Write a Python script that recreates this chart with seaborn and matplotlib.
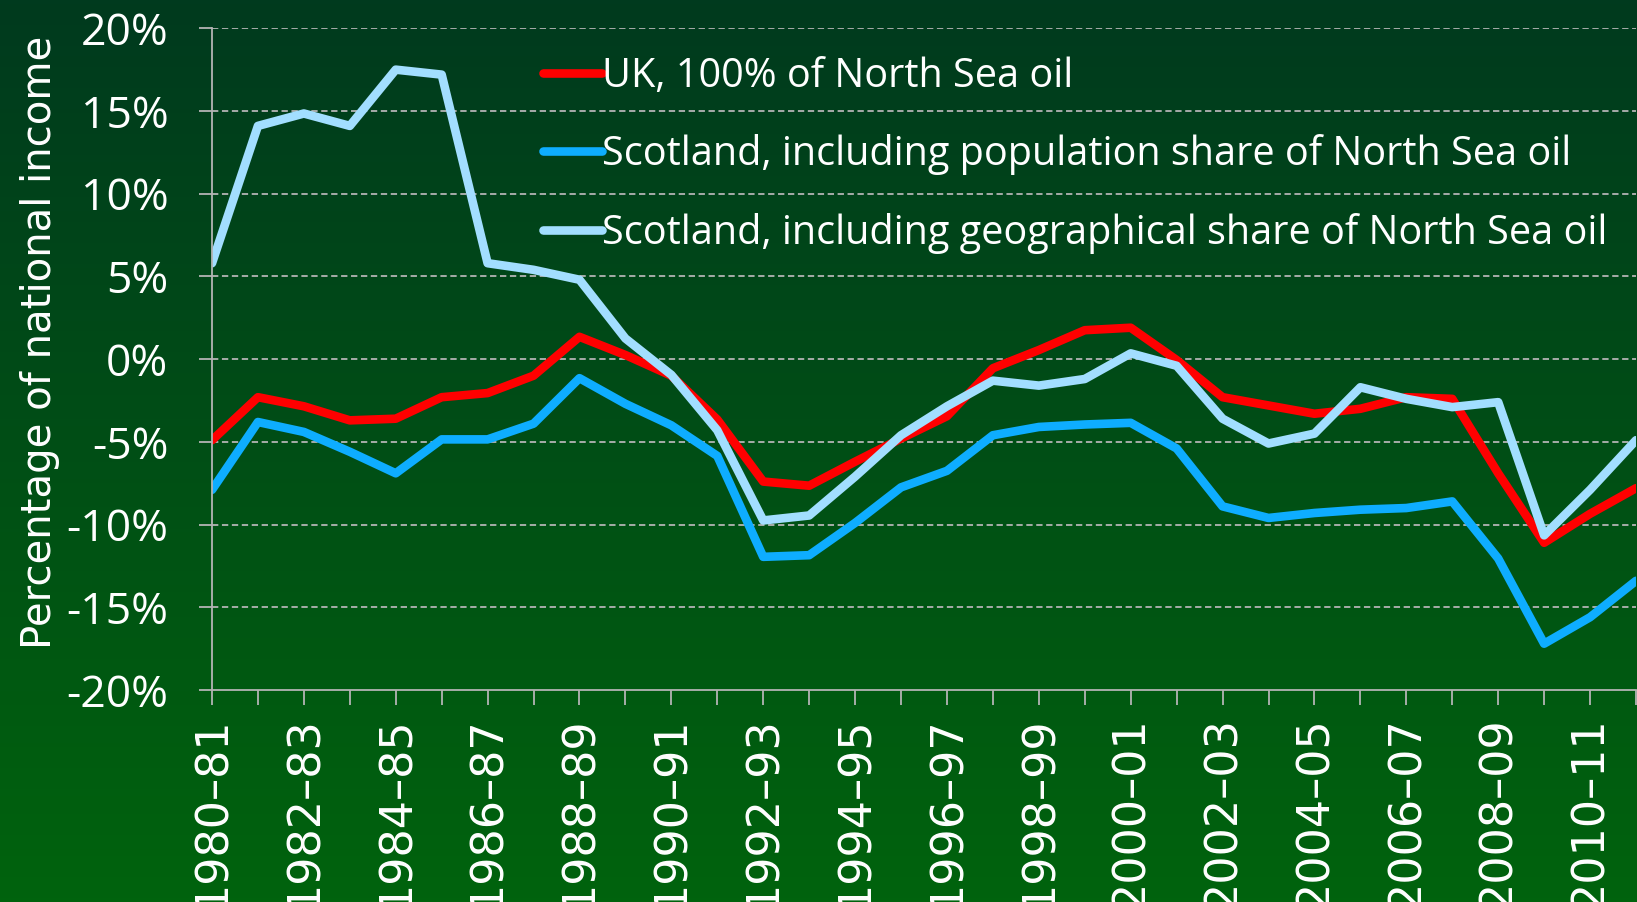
import matplotlib
matplotlib.use("Agg")
import matplotlib.pyplot as plt
import seaborn as sns
import numpy as np
import pandas as pd

# ---- data ----
years = ["1980–81", "1981–82", "1982–83", "1983–84", "1984–85", "1985–86",
         "1986–87", "1987–88", "1988–89", "1989–90", "1990–91", "1991–92",
         "1992–93", "1993–94", "1994–95", "1995–96", "1996–97", "1997–98",
         "1998–99", "1999–00", "2000–01", "2001–02", "2002–03", "2003–04",
         "2004–05", "2005–06", "2006–07", "2007–08", "2008–09", "2009–10",
         "2010–11", "2011–12"]

uk = [-4.9, -2.3, -2.85, -3.7, -3.6, -2.3, -2.05, -1.0, 1.35, 0.25, -1.0, -3.65,
      -7.4, -7.65, -6.2, -4.8, -3.45, -0.55, 0.55, 1.75, 1.9, -0.05, -2.3, -2.8,
      -3.3, -3.0, -2.3, -2.4, -6.9, -11.1, -9.35, -7.8]

scot_pop = [-7.9, -3.8, -4.4, -5.6, -6.9, -4.85, -4.85, -3.9, -1.15, -2.7, -4.0, -5.85,
            -11.95, -11.85, -9.9, -7.75, -6.75, -4.6, -4.1, -3.95, -3.85, -5.4, -8.9, -9.6,
            -9.3, -9.1, -9.0, -8.6, -12.05, -17.2, -15.6, -13.4]

scot_geo = [5.8, 14.1, 14.85, 14.1, 17.5, 17.2, 5.8, 5.4, 4.8, 1.25, -0.95, -4.3,
            -9.75, -9.45, -7.1, -4.6, -2.85, -1.3, -1.6, -1.2, 0.35, -0.4, -3.6, -5.1,
            -4.5, -1.7, -2.4, -2.9, -2.6, -10.65, -7.9, -4.9]

series_names = ["UK, 100% of North Sea oil",
                "Scotland, including population share of North Sea oil",
                "Scotland, including geographical share of North Sea oil"]
series_colors = ["#FF0000", "#0EADFF", "#A2DEFF"]

y_ticks = [-20, -15, -10, -5, 0, 5, 10, 15, 20]
y_ticklabels = ["-20%", "-15%", "-10%", "-5%", "0%", "5%", "10%", "15%", "20%"]

# long table for seaborn
df = pd.DataFrame({
    "idx": list(range(len(years))) * 3,
    "value": uk + scot_pop + scot_geo,
    "series": [series_names[0]] * len(years) + [series_names[1]] * len(years)
              + [series_names[2]] * len(years),
})

sns.set_style("ticks")
plt.rcParams["font.family"] = ["Open Sans", "DejaVu Sans"]

fig = plt.figure(figsize=(16.37, 9.02), dpi=100)

# gradient green background
bg = fig.add_axes([0, 0, 1, 1], zorder=-10)
top = np.array([0, 58, 30]) / 255
bot = np.array([0, 99, 13]) / 255
t = np.linspace(0, 1, 256)[:, None]
grad = (top * (1 - t) + bot * t)[:, None, :]
bg.imshow(grad, aspect="auto", extent=[0, 1, 0, 1])
bg.axis("off")

ax = fig.add_axes([212 / 1637, 1 - 690 / 902, 1424 / 1637, (690 - 28.3) / 902])
ax.set_facecolor("none")

sns.lineplot(data=df, x="idx", y="value", hue="series", hue_order=series_names,
             palette=series_colors, linewidth=6.2, ax=ax, sort=False)

ax.set_xlim(0, len(years) - 1)
ax.set_ylim(-20, 20)

# grid
for v in y_ticks[1:]:
    ax.axhline(v, color="#B4B4B4", lw=1.3, ls=(0, (3.5, 2)), zorder=0)

for s in ["top", "right"]:
    ax.spines[s].set_visible(False)
for s in ["left", "bottom"]:
    ax.spines[s].set_color("#B4B4B4")
    ax.spines[s].set_linewidth(1.3)

ax.set_yticks(y_ticks)
ax.set_yticklabels(y_ticklabels)
ax.tick_params(axis="y", colors="#B4B4B4", labelcolor="white", length=9.5,
               width=1.3, pad=22, labelsize=32)

ax.set_xticks(range(len(years)))
ax.set_xticklabels([y if i % 2 == 0 else "" for i, y in enumerate(years)],
                   rotation=90, family="DejaVu Sans", fontsize=32)
ax.tick_params(axis="x", colors="#B4B4B4", labelcolor="white", length=11,
               width=1.3, pad=8)

ax.set_xlabel("")
ax.set_ylabel("Percentage of national income", color="white", fontsize=29,
              family="DejaVu Sans")
ax.yaxis.set_label_coords(-0.107, 0.525)

leg = ax.legend(loc="upper left", bbox_to_anchor=(0.2325, 0.958), frameon=False,
                fontsize=28.5, handlelength=1.5, handletextpad=0.0,
                labelspacing=0.95, borderpad=0, borderaxespad=0)
for txt in leg.get_texts():
    txt.set_color("white")
for line in leg.get_lines():
    line.set_linewidth(6.2)

fig.savefig("out.png", dpi=100, facecolor=fig.get_facecolor())
